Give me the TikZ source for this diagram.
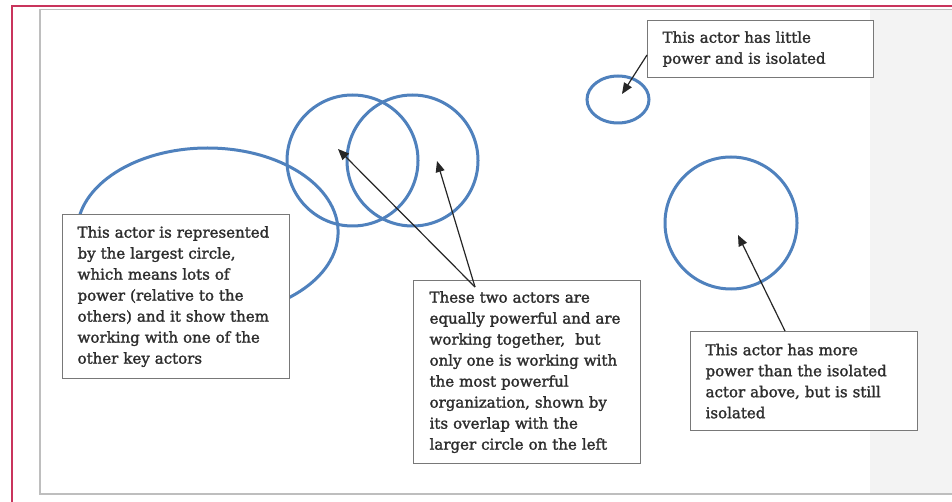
\documentclass[tikz,border=0pt]{standalone}
\usepackage{fontspec}
\setmainfont{DejaVu Serif}
\newfontfamily\notefont{DejaVu Serif}[FakeBold=1.6]
\usetikzlibrary{shapes.geometric,arrows.meta}
\definecolor{actorblue}{RGB}{79,129,189}
\definecolor{framered}{RGB}{201,52,92}
\definecolor{pagegray}{RGB}{190,190,190}
\definecolor{sidegray}{RGB}{243,243,243}
\definecolor{boxgray}{RGB}{120,120,120}
\definecolor{textgray}{RGB}{45,45,45}
\tikzset{
  actor/.style={ellipse, draw=actorblue, line width=3pt, inner sep=0pt},
  notebox/.style={draw=boxgray, line width=1.2pt, fill=white, anchor=north west,
    align=left, inner xsep=15pt, inner ysep=0pt, text=textgray,
    font=\notefont\fontsize{15}{21}\selectfont},
  pointer/.style={draw=black!85, line width=1.2pt, -{Triangle[length=11pt,width=9pt]}}
}
\begin{document}
\begin{tikzpicture}[x=1pt,y=-1pt]
\useasboundingbox (0,0) rectangle (952,502);
\fill[white] (0,0) rectangle (952,502);
% page
\fill[sidegray] (870,10) rectangle (952,494);
\draw[pagegray, line width=1.2pt] (952,9.5) -- (40,9.5) -- (40,494) -- (952,494);
\draw[framered, line width=2pt] (960,6.5) -- (12,6.5) -- (12,510);
% actors
\node[actor, minimum width=261pt, minimum height=168pt] (big) at (207.6,232) {};
\node[actor, minimum size=131pt] (ca) at (352.5,160.5) {};
\node[actor, minimum size=131pt] (cb) at (412.5,160.5) {};
\node[actor, minimum width=62pt, minimum height=47pt] (small) at (618,99.5) {};
\node[actor, minimum size=132pt] (cr) at (731,223) {};
% boxes
\node[notebox, text width=197pt, minimum height=164pt] (b1) at (62,214)
 {This actor is represented\\by the largest circle,\\which means lots of\\power (relative to the\\others) and it show them\\working with one of the\\other key actors};
\node[notebox, inner xsep=16pt, text width=195pt, minimum height=183pt] (b2) at (413,280)
 {These two actors are\\equally powerful and are\\working together,\ \ but\\only one is working with\\the most powerful\\organization, shown by\\its overlap with the\\larger circle on the left};
\node[notebox, text width=197pt, minimum height=99pt] (b3) at (690,331)
 {This actor has more\\power than the isolated\\actor above, but is still\\isolated};
\node[notebox, text width=196pt, minimum height=57pt] (b4) at (647,20)
 {This actor has little\\power and is isolated};
% pointer ends
\coordinate (apex) at (475,287);
\coordinate (tipA) at (338,149);
\coordinate (tipB) at (437,161);
\coordinate (tipS) at (622,94);
\coordinate (tipR) at (738,235);
\coordinate (fromS) at (b4.west |- 0,55);
\coordinate (fromR) at (785,331);
\draw[pointer] (apex) -- (tipA);
\draw[pointer] (apex) -- (tipB);
\draw[pointer] (fromS) -- (tipS);
\draw[pointer] (fromR) -- (tipR);
\end{tikzpicture}
\end{document}
